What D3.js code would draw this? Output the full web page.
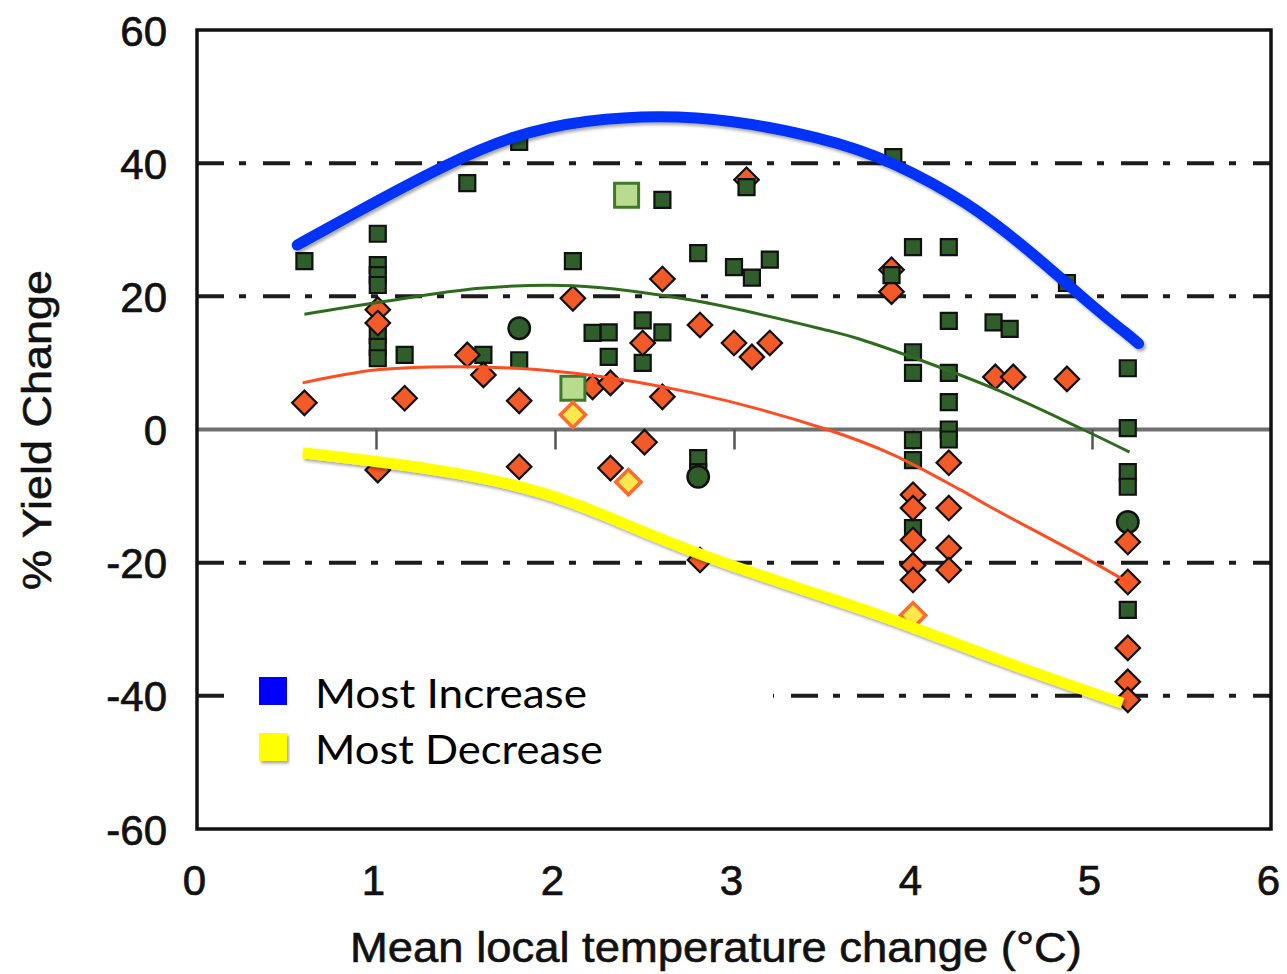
<!DOCTYPE html>
<html>
<head>
<meta charset="utf-8">
<script src="https://cdn.jsdelivr.net/npm/d3@7"></script>
<style>
  body { margin: 0; background: #fff; }
  .tick text { font-family: "Liberation Sans", Arial, sans-serif; }
</style>
</head>
<body>
<svg id="chart" width="1287" height="974"></svg>
<script>
// ticks
var xTicks = [0, 1, 2, 3, 4, 5, 6];
var yTicks = [-60, -40, -20, 0, 20, 40, 60];
var gridValues = [-40, -20, 20, 40];
var zeroTicks = [1, 2, 3, 4, 5];

// points: [temperature change, % yield change]
var greenSquares = [
  [0.60, 25.3], [1.01, 29.4], [1.01, 24.7], [1.01, 23.2], [1.01, 21.7], [1.01, 14.2], [1.01, 12.4], [1.01, 10.7],
  [1.16, 11.2], [1.51, 37.0], [1.60, 11.2], [1.80, 43.2], [1.80, 10.4], [2.10, 25.3], [2.21, 14.5], [2.30, 14.6],
  [2.30, 10.9], [2.49, 16.4], [2.60, 14.6], [2.49, 10.0], [2.60, 34.5], [2.80, 26.5], [3.00, 24.4], [3.10, 22.8],
  [3.20, 25.5], [2.80, -4.3], [2.80, -6.4], [3.89, 40.9], [4.00, 27.4], [4.20, 27.4],
  [4.20, 16.3], [4.45, 16.1], [4.54, 15.1], [4.86, 22.0], [4.00, 11.6], [4.00, 8.5], [4.20, 8.5], [4.20, 4.1],
  [4.00, -1.6], [4.00, -4.6], [4.20, 0.0], [4.20, -1.5], [4.00, -14.8], [5.20, 9.2], [5.20, 0.2], [5.20, -6.4],
  [5.20, -8.6], [5.20, -27.1]
];
var greenCircles = [[1.80, 15.2], [2.80, -7.1], [5.20, -13.9]];
var redDiamonds = [
  [0.60, 4.0], [1.01, 18.0], [1.01, 16.0], [1.01, -6.1], [1.16, 4.7], [1.51, 11.2], [1.60, 8.2], [1.80, 4.3],
  [1.80, -5.6], [2.10, 19.7], [2.60, 22.6], [2.49, 13.0], [2.81, 15.7], [3.00, 13.0], [3.10, 10.9], [3.20, 13.0],
  [2.21, 6.4], [2.31, 7.0], [2.60, 4.9], [2.50, -1.9], [2.31, -5.8], [2.81, -19.6], [3.07, 37.5], [3.88, 20.7],
  [3.88, 24.0], [4.46, 7.9], [4.56, 7.9], [4.86, 7.6], [4.20, -5.0], [4.20, -11.8], [4.20, -17.8], [4.20, -21.1],
  [4.00, -9.8], [4.00, -11.8], [4.00, -16.6], [4.00, -20.4], [4.00, -22.6], [5.20, -16.9], [5.20, -22.9],
  [5.20, -32.8], [5.20, -37.9], [5.20, -40.6]
];
// squares drawn over the diamonds (the "house" shapes)
var greenSquaresTop = [[3.07, 36.4], [3.88, 23.2]];
var paleSquares = [[2.10, 6.2], [2.40, 35.2]];
var yellowDiamonds = [[2.10, 2.2], [2.41, -7.9], [4.00, -27.9]];

// fitted curves
var greenFit = [[0.60, 17.3], [1.02, 19.1], [1.58, 21.2], [2.10, 21.6], [2.77, 19.4], [3.52, 14.9], [3.70, 13.6],
  [4.43, 6.4], [4.95, 0.0], [5.21, -3.4]];
var redFit = [[0.59, 7.0], [1.02, 9.0], [1.58, 9.4], [2.10, 8.5], [2.77, 5.5], [3.52, 0.0], [3.89, -3.8],
  [4.26, -9.0], [4.43, -11.6], [4.95, -19.1], [5.21, -23.1]];

// hand drawn envelopes
var mostIncrease = [[0.56, 27.7], [0.84, 31.9], [1.40, 40.0], [1.77, 44.2], [2.14, 46.5], [2.77, 47.6], [3.52, 43.8],
  [3.89, 40.2], [4.30, 34.3], [4.67, 26.5], [5.04, 17.6], [5.20, 14.3], [5.26, 12.9]];
var mostDecrease = [[0.59, -3.5], [1.02, -4.8], [1.58, -7.0], [1.96, -9.6], [2.25, -12.5], [2.77, -18.6],
  [3.52, -25.2], [3.93, -28.9], [4.49, -34.8], [5.17, -41.1]];

var legendLabels = ["Most Increase", "Most Decrease"];
var legendColors = ["#0000ff", "#ffff00"];

var svg = d3.select("#chart");

var x = d3.scaleLinear().domain([0, 6]).range([197, 1271]);
var y = d3.scaleLinear().domain([-60, 60]).range([829, 30]);

var defs = svg.append("defs");
var f = defs.append("filter").attr("id", "shadow").attr("x", "-10%").attr("y", "-10%").attr("width", "120%").attr("height", "130%");
f.append("feDropShadow").attr("dx", 2).attr("dy", 2.5).attr("stdDeviation", 1.5)
  .attr("flood-color", "#000").attr("flood-opacity", 0.35);

// dash-dot gridlines
svg.append("g").selectAll("line")
  .data(gridValues)
  .join("line")
  .attr("x1", x(0)).attr("x2", x(6))
  .attr("y1", d => y(d)).attr("y2", d => y(d))
  .attr("stroke", "#1c1c1c")
  .attr("stroke-width", 4)
  .attr("stroke-dasharray", "27 15 7 17");

// zero line with small ticks
svg.append("line")
  .attr("x1", x(0)).attr("x2", x(6))
  .attr("y1", y(0)).attr("y2", y(0))
  .attr("stroke", "#6f6f6f").attr("stroke-width", 4);

var zeroAxis = svg.append("g")
  .attr("transform", "translate(0," + y(0) + ")")
  .call(d3.axisBottom(x).tickValues(zeroTicks).tickSize(20).tickFormat(""));
zeroAxis.select(".domain").remove();
zeroAxis.selectAll("line").attr("stroke", "#555").attr("stroke-width", 2.5);

// markers
var sq = d3.symbol(d3.symbolSquare, 256);
var dia = d3.symbol(d3.symbolSquare, 300);

svg.append("g").selectAll("path")
  .data(greenSquares)
  .join("path")
  .attr("transform", d => "translate(" + x(d[0]) + "," + y(d[1]) + ")")
  .attr("d", sq)
  .attr("fill", "#2f5e2b").attr("stroke", "#111").attr("stroke-width", 2.2);

svg.append("g").selectAll("path")
  .data(greenCircles)
  .join("path")
  .attr("transform", d => "translate(" + x(d[0]) + "," + y(d[1]) + ")")
  .attr("d", d3.symbol(d3.symbolCircle, 360))
  .attr("fill", "#2f5e2b").attr("stroke", "#111").attr("stroke-width", 2.5);

svg.append("g").selectAll("path")
  .data(redDiamonds)
  .join("path")
  .attr("transform", d => "translate(" + x(d[0]) + "," + y(d[1]) + ") rotate(45)")
  .attr("d", dia)
  .attr("fill", "#f25a28").attr("stroke", "#111").attr("stroke-width", 2.2);

svg.append("g").selectAll("path")
  .data(greenSquaresTop)
  .join("path")
  .attr("transform", d => "translate(" + x(d[0]) + "," + y(d[1]) + ")")
  .attr("d", sq)
  .attr("fill", "#2f5e2b").attr("stroke", "#111").attr("stroke-width", 2.2);

svg.append("g").selectAll("path")
  .data(paleSquares)
  .join("path")
  .attr("transform", d => "translate(" + x(d[0]) + "," + y(d[1]) + ")")
  .attr("d", d3.symbol(d3.symbolSquare, 576))
  .attr("fill", "#b8dc8e").attr("stroke", "#3f7a2c").attr("stroke-width", 3);

svg.append("g").selectAll("path")
  .data(yellowDiamonds)
  .join("path")
  .attr("transform", d => "translate(" + x(d[0]) + "," + y(d[1]) + ") rotate(45)")
  .attr("d", d3.symbol(d3.symbolSquare, 320))
  .attr("fill", "#ffe84c").attr("stroke", "#ff6a30").attr("stroke-width", 3.5);

// fitted curves
var fitLine = d3.line().x(d => x(d[0])).y(d => y(d[1])).curve(d3.curveCatmullRom);
var handLine = d3.line().x(d => x(d[0])).y(d => y(d[1])).curve(d3.curveBasis);

svg.append("path").datum(greenFit)
  .attr("d", fitLine).attr("fill", "none")
  .attr("stroke", "#2e6b1e").attr("stroke-width", 3);

svg.append("path").datum(redFit)
  .attr("d", fitLine).attr("fill", "none")
  .attr("stroke", "#ff4d22").attr("stroke-width", 3);

// frame
svg.append("rect")
  .attr("x", x(0)).attr("y", y(60))
  .attr("width", x(6) - x(0)).attr("height", y(-60) - y(60))
  .attr("fill", "none").attr("stroke", "#111").attr("stroke-width", 3.5);

// white box behind legend
svg.append("rect")
  .attr("x", 226).attr("y", 650)
  .attr("width", 547).attr("height", 135)
  .attr("fill", "#fff");

// envelopes
svg.append("path").datum(mostIncrease)
  .attr("d", handLine).attr("fill", "none")
  .attr("stroke", "#0232f7").attr("stroke-width", 11)
  .attr("stroke-linecap", "round")
  .attr("filter", "url(#shadow)");

svg.append("path").datum(mostDecrease)
  .attr("d", handLine).attr("fill", "none")
  .attr("stroke", "#ffff00").attr("stroke-width", 11)
  .attr("filter", "url(#shadow)");

// legend
var legend = svg.append("g").selectAll("g")
  .data(legendLabels)
  .join("g")
  .attr("transform", (d, i) => "translate(259," + (677 + i * 56) + ")");

legend.append("rect")
  .attr("width", 28).attr("height", 28)
  .attr("fill", (d, i) => legendColors[i])
  .attr("filter", (d, i) => i == 1 ? "url(#shadow)" : null);

legend.append("text")
  .attr("x", 56).attr("y", 31)
  .attr("textLength", (d, i) => i == 0 ? 272 : 288)
  .attr("lengthAdjust", "spacingAndGlyphs")
  .style("font-family", "Lato, 'Open Sans', sans-serif")
  .style("font-size", "41px")
  .attr("fill", "#000")
  .text(d => d);

// axes labels
var yAxis = svg.append("g")
  .attr("transform", "translate(" + x(0) + ",0)")
  .call(d3.axisLeft(y).tickValues(yTicks).tickSize(0).tickPadding(30).tickFormat(d => String(d)));
yAxis.select(".domain").remove();
yAxis.selectAll("text")
  .attr("dy", "0.36em")
  .style("font-size", "42px")
  .attr("fill", "#111").attr("stroke", "#111").attr("stroke-width", 0.7);

var xAxis = svg.append("g")
  .attr("transform", "translate(0," + y(-60) + ")")
  .call(d3.axisBottom(x).tickValues(xTicks).tickSize(0).tickPadding(36).tickFormat(d => String(d)));
xAxis.select(".domain").remove();
xAxis.selectAll("text")
  .attr("dx", -3)
  .style("font-size", "42px")
  .attr("fill", "#111").attr("stroke", "#111").attr("stroke-width", 0.7);

svg.append("text")
  .attr("transform", "translate(51,430) rotate(-90)")
  .attr("text-anchor", "middle")
  .attr("textLength", 320)
  .attr("lengthAdjust", "spacingAndGlyphs")
  .style("font-family", "'Liberation Sans', Arial, sans-serif")
  .style("font-size", "41px")
  .attr("fill", "#111").attr("stroke", "#111").attr("stroke-width", 0.6)
  .text("% Yield Change");

svg.append("text")
  .attr("x", 716).attr("y", 962)
  .attr("text-anchor", "middle")
  .attr("textLength", 732)
  .attr("lengthAdjust", "spacingAndGlyphs")
  .style("font-family", "'Liberation Sans', Arial, sans-serif")
  .style("font-size", "42px")
  .attr("fill", "#111").attr("stroke", "#111").attr("stroke-width", 0.6)
  .text("Mean local temperature change (°C)");
</script>
</body>
</html>
